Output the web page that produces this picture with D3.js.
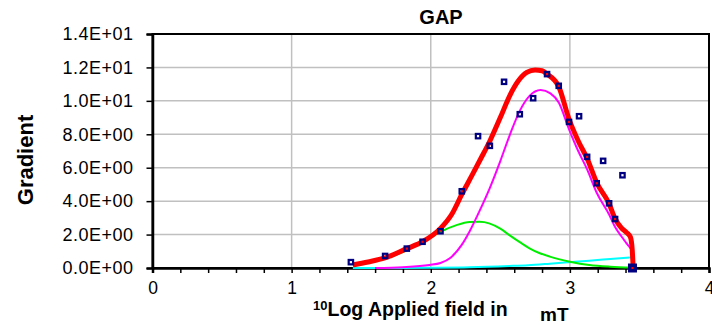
<!DOCTYPE html>
<html>
<head>
<meta charset="utf-8">
<script src="https://cdn.jsdelivr.net/npm/d3@7"></script>
<style>
  html, body { margin: 0; padding: 0; background: #fff; }
  svg { display: block; font-family: Arial, "Liberation Sans", sans-serif; }
</style>
</head>
<body>
<div id="chart"></div>
<script>
// measured points (squares)
const pointX = [1.426, 1.672, 1.828, 1.941, 2.07, 2.223, 2.34, 2.425, 2.527, 2.64, 2.736, 2.836, 2.92, 2.994, 3.066, 3.124, 3.193, 3.239, 3.282, 3.325, 3.378];
const pointY = [0.35, 0.72, 1.16, 1.57, 2.2, 4.59, 7.89, 7.31, 11.14, 9.2, 10.16, 11.6, 10.9, 8.74, 9.08, 6.65, 5.07, 6.41, 3.87, 2.93, 5.55];
const endPointX = [3.45];
const endPointY = [0.0];

// total fit (red)
const fitX = [1.44, 1.55, 1.67, 1.828, 1.941, 2.07, 2.15, 2.223, 2.3, 2.36, 2.425, 2.5, 2.57, 2.63, 2.69, 2.75, 2.8, 2.836, 2.92, 2.994, 3.06, 3.124, 3.193, 3.282, 3.325, 3.37, 3.41, 3.435, 3.448, 3.455];
const fitY = [0.18, 0.36, 0.6, 1.16, 1.57, 2.37, 3.2, 4.4, 5.6, 6.55, 7.6, 9.0, 10.35, 11.2, 11.7, 11.85, 11.8, 11.6, 10.85, 8.9, 7.6, 6.55, 5.1, 3.85, 2.95, 2.4, 2.1, 1.85, 1.1, 0];

// component 1 (green)
const comp1X = [1.44, 1.55, 1.67, 1.83, 1.93, 2.07, 2.18, 2.28, 2.35, 2.42, 2.5, 2.565, 2.64, 2.71, 2.78, 2.856, 3.0, 3.14, 3.29, 3.45];
const comp1Y = [0.18, 0.34, 0.56, 1.07, 1.5, 2.17, 2.55, 2.75, 2.76, 2.67, 2.35, 1.97, 1.55, 1.18, 0.9, 0.68, 0.38, 0.18, 0.08, 0.03];

// component 2 (magenta)
const comp2X = [1.6, 1.8, 1.99, 2.07, 2.14, 2.22, 2.28, 2.35, 2.425, 2.5, 2.57, 2.64, 2.71, 2.79, 2.86, 2.92, 2.994, 3.06, 3.124, 3.193, 3.282, 3.325, 3.37, 3.41, 3.44];
const comp2Y = [0, 0.05, 0.18, 0.3, 0.6, 1.35, 2.2, 3.4, 4.8, 6.4, 8.0, 9.4, 10.3, 10.65, 10.45, 9.9, 8.3, 7.0, 5.9, 4.5, 3.2, 2.45, 1.9, 1.45, 1.15];

// component 3 (cyan)
const comp3X = [1.44, 1.8, 2.0, 2.28, 2.565, 2.7, 2.856, 3.0, 3.14, 3.29, 3.44];
const comp3Y = [0, 0, 0.01, 0.04, 0.12, 0.17, 0.26, 0.35, 0.44, 0.54, 0.64];

const xTicks = [0, 1, 2, 3, 4];
const yTicks = [0, 2, 4, 6, 8, 10, 12, 14];

const W = 712, H = 325;
const plot = { l: 152.5, r: 709, t: 34, b: 268 };

const x = d3.scaleLinear().domain([0, 4]).range([plot.l, plot.r]);
const y = d3.scaleLinear().domain([0, 14]).range([plot.b, plot.t]);

const sci = (v) => {
  if (v === 0) return "0.0E+00";
  const e = Math.floor(Math.log10(v));
  const m = v / Math.pow(10, e);
  return m.toFixed(1) + "E" + (e < 0 ? "-" : "+") + String(Math.abs(e)).padStart(2, "0");
};

const svg = d3.select("#chart")
  .append("svg")
  .attr("width", W)
  .attr("height", H)
  .attr("viewBox", [0, 0, W, H]);

// grid
svg.append("g")
  .selectAll("line")
  .data(yTicks.filter(d => d > 0 && d < 14))
  .join("line")
  .attr("x1", plot.l).attr("x2", plot.r)
  .attr("y1", d => y(d)).attr("y2", d => y(d))
  .attr("stroke", "#c0c0c0")
  .attr("stroke-width", 1.5);

svg.append("g")
  .selectAll("line")
  .data(xTicks.filter(d => d > 0 && d < 4))
  .join("line")
  .attr("x1", d => x(d)).attr("x2", d => x(d))
  .attr("y1", plot.t).attr("y2", plot.b)
  .attr("stroke", "#c0c0c0")
  .attr("stroke-width", 1.5);

// frame
svg.append("rect")
  .attr("x", plot.l)
  .attr("y", plot.t)
  .attr("width", plot.r - plot.l)
  .attr("height", plot.b - plot.t)
  .attr("fill", "none")
  .attr("stroke", "#000")
  .attr("stroke-width", 2);

// axes
const xAxis = d3.axisBottom(x)
  .tickValues(d3.range(0, 4.001, 0.2))
  .tickSize(5)
  .tickFormat(d => xTicks.some(t => Math.abs(t - d) < 1e-6) ? d3.format("d")(Math.round(d)) : "");

const gx = svg.append("g")
  .attr("transform", `translate(0,${plot.b})`)
  .call(xAxis);
gx.select(".domain").attr("stroke-width", 2.5);
gx.selectAll(".tick line").attr("stroke-width", 1.5);
gx.selectAll(".tick text")
  .attr("font-size", 17.5)
  .attr("font-family", "Arial, 'Liberation Sans', sans-serif")
  .attr("fill", "#000")
  .attr("dy", "1.05em");

const yAxis = d3.axisLeft(y)
  .tickValues(yTicks)
  .tickSize(6)
  .tickFormat(sci);

const gy = svg.append("g")
  .attr("transform", `translate(${plot.l},0)`)
  .call(yAxis);
gy.select(".domain").attr("stroke-width", 2.5);
gy.selectAll(".tick line").attr("stroke-width", 1.5);
gy.selectAll(".tick text")
  .attr("font-size", 18)
  .attr("font-family", "Arial, 'Liberation Sans', sans-serif")
  .attr("letter-spacing", 0.5)
  .attr("fill", "#000")
  .attr("x", -19);

// curves
const line = d3.line()
  .x(d => x(d[0]))
  .y(d => y(d[1]))
  .curve(d3.curveMonotoneX);

const gLines = svg.append("g");
const series = [
  { xs: comp3X, ys: comp3Y, color: "#00ffff", w: 2 },
  { xs: comp1X, ys: comp1Y, color: "#00ee00", w: 2 },
  { xs: comp2X, ys: comp2Y, color: "#ff00ff", w: 2 },
  { xs: fitX, ys: fitY, color: "#ff0000", w: 5 }
];
series.forEach(s => {
  gLines.append("path")
    .datum(d3.zip(s.xs, s.ys))
    .attr("d", line)
    .attr("fill", "none")
    .attr("stroke", s.color)
    .attr("stroke-width", s.w)
    .attr("stroke-linejoin", "round");
});

// markers
const gPts = svg.append("g");
gPts.selectAll("rect")
  .data(d3.zip(pointX, pointY))
  .join("rect")
  .attr("x", d => x(d[0]) - 2.2)
  .attr("y", d => y(d[1]) - 2.2)
  .attr("width", 4.4)
  .attr("height", 4.4)
  .attr("fill", "none")
  .attr("stroke", "#000080")
  .attr("stroke-width", 2.2);

const endPts = d3.zip(endPointX, endPointY);
gPts.selectAll("rect.end")
  .data(endPts)
  .join("rect")
  .attr("class", "end")
  .attr("x", d => x(d[0]) - 4.5)
  .attr("y", d => y(d[1]) - 4.5)
  .attr("width", 9)
  .attr("height", 9)
  .attr("fill", "#000080");
gPts.selectAll("rect.dot")
  .data(endPts)
  .join("rect")
  .attr("class", "dot")
  .attr("x", d => x(d[0]) - 1)
  .attr("y", d => y(d[1]) - 1)
  .attr("width", 2)
  .attr("height", 2)
  .attr("fill", "#ff0000");

// titles
svg.append("text")
  .attr("x", 441)
  .attr("y", 24)
  .attr("text-anchor", "middle")
  .attr("font-size", 20)
  .attr("font-weight", 700)
  .text("GAP");

svg.append("text")
  .attr("transform", "translate(33,160) rotate(-90)")
  .attr("text-anchor", "middle")
  .attr("font-size", 22)
  .attr("font-weight", 700)
  .text("Gradient");

const xl = svg.append("text")
  .attr("x", 313)
  .attr("y", 316)
  .attr("font-weight", 700);
xl.append("tspan")
  .attr("font-size", 13)
  .attr("dy", -6)
  .text("10");
xl.append("tspan")
  .attr("font-size", 19.5)
  .attr("dy", 6)
  .text("Log Applied field in");

svg.append("text")
  .attr("x", 540)
  .attr("y", 321)
  .attr("font-size", 19)
  .attr("font-weight", 700)
  .text("mT");
</script>
</body>
</html>
